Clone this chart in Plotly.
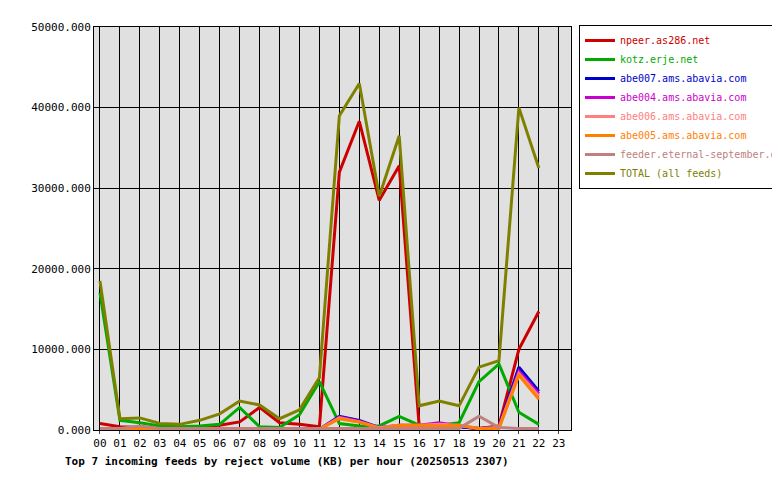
import plotly.graph_objects as go

hours = [f"{h:02d}" for h in range(23)]
npeer = [800,400,300,200,300,400,600,1000,2800,900,700,400,32000,38300,28500,32800,500,400,400,200,500,10000,14700]
kotz = [17000,1200,900,500,400,500,700,2800,400,300,1900,6000,800,500,500,1700,600,600,900,6000,8200,2200,700]
abe007 = [0,0,100,0,0,0,100,0,0,0,0,100,1700,1200,300,500,500,600,400,200,400,7800,4800]
abe004 = [0,0,100,0,0,0,100,0,0,0,0,100,1600,1100,300,600,600,900,500,200,300,7300,4500]
abe006 = [0,0,100,0,0,0,100,0,0,0,0,100,1500,1000,300,600,600,700,600,200,300,7000,4200]
abe005 = [0,0,200,0,0,0,100,0,0,0,0,100,1400,1000,200,600,600,500,600,200,200,6800,3800]
feeder = [200,200,500,200,200,200,200,200,200,200,200,200,200,200,200,200,200,200,200,1700,300,200,200]
total = [18500,1400,1500,800,700,1200,2000,3600,3100,1400,2500,6500,39000,43000,29000,36500,3000,3600,3000,7800,8600,40000,32500]

series = [
    ("npeer.as286.net", npeer, "#cc0000"),
    ("kotz.erje.net", kotz, "#00aa00"),
    ("abe007.ams.abavia.com", abe007, "#0000cc"),
    ("abe004.ams.abavia.com", abe004, "#cc00cc"),
    ("abe006.ams.abavia.com", abe006, "#ff8080"),
    ("abe005.ams.abavia.com", abe005, "#ff8000"),
    ("feeder.eternal-september.org", feeder, "#c08080"),
    ("TOTAL (all feeds)", total, "#808000"),
]

font = "DejaVu Sans Mono"
fig = go.Figure()
for name, vals, col in series:
    fig.add_trace(go.Scatter(x=list(range(23)), y=vals,
                             name=f'<span style="color:{col}">{name}</span>',
                             mode="lines", line=dict(color=col, width=3)))

fig.update_layout(
    width=780, height=480, paper_bgcolor="white", plot_bgcolor="#e0e0e0",
    margin=dict(l=86, r=9, t=19, b=58, autoexpand=False),
    font=dict(family=font, size=11, color="black"),
    showlegend=True,
    legend=dict(x=0.708, y=1.005, xanchor="left", yanchor="top",
                bordercolor="black", borderwidth=1, bgcolor="white",
                font=dict(family=font, size=10), tracegroupgap=0, itemwidth=30),
    xaxis=dict(domain=[0, 0.696], range=[-0.3, 23.6], tickmode="array",
               tickvals=list(range(24)), automargin=False,
               ticktext=[f"{h:02d}" for h in range(24)], showgrid=True,
               gridcolor="black", gridwidth=1, showline=True, linecolor="black",
               mirror=True, zeroline=False, ticks="outside", ticklen=3),
    yaxis=dict(range=[0, 50000], tickvals=[0,10000,20000,30000,40000,50000],
               automargin=False,
               tickformat=".3f", showgrid=True, gridcolor="black", gridwidth=1,
               showline=True, linecolor="black", mirror=True, zeroline=False),
    annotations=[dict(text="<b>Top 7 incoming feeds by reject volume (KB) per hour (20250513 2307)</b>",
                      xref="paper", yref="paper", x=-0.045, y=-0.057, xanchor="left",
                      yanchor="top", showarrow=False, font=dict(family=font, size=11))],
)
fig.write_html("out.html")
